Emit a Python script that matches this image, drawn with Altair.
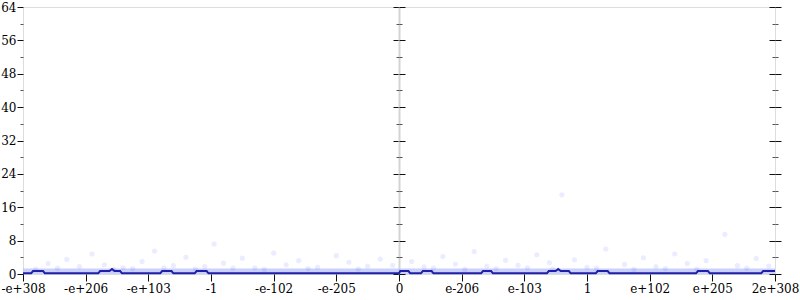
import altair as alt
import pandas as pd

# ---- data ----
x_ticks = list(range(-6, 7))
x_labels = ["-e+308", "-e+206", "-e+103", "-1", "-e-102", "-e-205", "0",
            "e-206", "e-103", "1", "e+102", "e+205", "2e+308"]
y_major = [0, 8, 16, 24, 32, 40, 48, 56, 64]
y_minor = [4, 12, 20, 28, 36, 44, 52, 60]

line_x = [-6, -5.87, -5.84, -5.68, -5.65, -4.8, -4.77, -4.62, -4.58, -4.54, -4.45, -4.42,
          -3.81, -3.78, -3.63, -3.60, -3.26, -3.23, -3.07, -3.04,
          0, 0.02, 0.15, 0.18, 0.35, 0.38, 0.52, 0.55, 1.31, 1.34, 1.47, 1.50,
          2.36, 2.39, 2.50, 2.54, 2.58, 2.71, 2.74, 3.14, 3.17, 3.33, 3.36,
          4.74, 4.77, 4.93, 4.96, 5.78, 5.81, 6]
line_y = [0.15, 0.15, 0.7, 0.7, 0.15, 0.15, 0.7, 0.7, 1.2, 0.7, 0.7, 0.15,
          0.15, 0.7, 0.7, 0.15, 0.15, 0.7, 0.7, 0.15,
          0.15, 0.7, 0.7, 0.15, 0.15, 0.7, 0.7, 0.15, 0.15, 0.7, 0.7, 0.15,
          0.15, 0.7, 0.7, 1.2, 0.7, 0.7, 0.15, 0.15, 0.7, 0.7, 0.15,
          0.15, 0.7, 0.7, 0.15, 0.15, 0.7, 0.7]

pts_x = [-5.6, -5.3, -5.1, -4.9, -4.7, -4.4, -4.1, -3.9, -3.6, -3.4, -3.1, -2.95, -2.8,
         -2.5, -2.3, -2.0, -1.8, -1.6, -1.3, -1.0, -0.8, -0.5, -0.3, -0.1,
         0.2, 0.4, 0.7, 0.9, 1.2, 1.4, 1.7, 1.9, 2.2, 2.4, 2.6, 2.8, 3.0, 3.3, 3.6,
         3.9, 4.1, 4.4, 4.6, 4.9, 5.2, 5.4, 5.7, 5.9,
         -5.8, -5.45, -4.55, -4.25, -3.75, -3.25, -2.65, -2.15, -1.45, -0.65,
         0.55, 1.05, 1.55, 2.05, 2.45, 3.15, 3.75, 4.25, 4.75, 5.55]
pts_y = [2.5, 3.5, 1.8, 4.8, 2.2, 1.5, 3.0, 5.5, 2.0, 4.0, 1.8, 7.2, 2.6,
         3.8, 1.5, 5.0, 2.2, 3.2, 1.6, 4.4, 2.8, 1.9, 3.6, 2.1,
         3.0, 1.7, 4.2, 2.4, 5.4, 1.9, 3.3, 2.1, 4.6, 2.7, 19.0, 3.4, 1.6, 6.0, 2.3,
         3.9, 1.8, 4.8, 2.5, 3.2, 9.5, 2.0, 3.7, 1.9,
         1.2, 1.4, 1.1, 1.3, 1.5, 1.2, 1.4, 1.1, 1.3, 1.2,
         1.4, 1.1, 1.3, 1.5, 1.2, 1.4, 1.1, 1.3, 1.2, 1.4]

band_x = [-6, 6]
band_y = [1.3, 1.3]

FONT = "DejaVu Serif"
W, H = 752, 267
GRAY = "#d4d4d4"
label_expr = "[" + ",".join("'%s'" % s for s in x_labels) + "][datum.value + 6]"

xs = alt.Scale(domain=[-6, 6], nice=False, zero=False)


def ys():
    return alt.Scale(domain=[0, 64], nice=False, zero=True)


df_line = pd.DataFrame({"x": line_x, "y": line_y})
df_pts = pd.DataFrame({"x": pts_x, "y": pts_y})
df_band = pd.DataFrame({"x": band_x, "y": band_y})

x_axis = alt.Axis(values=x_ticks, labelExpr=label_expr, title=None, domain=False,
                  grid=False, tickSize=7, tickColor="#111", labelFont=FONT,
                  labelFontSize=12, labelColor="#000", labelPadding=2,
                  labelOverlap=False, labelFlush=False, labelBound=False)
main_y_axis = alt.Axis(values=y_major, title=None, domain=False, grid=False,
                       tickSize=6, tickColor="#111", labelFont=FONT, labelFontSize=12,
                       labelColor="#000", labelPadding=1, labelOverlap=False,
                       labelFlush=False, labelBound=False, orient="left")

band = alt.Chart(df_band).mark_area(color="#b4bcff", opacity=0.7).encode(
    x=alt.X("x:Q", scale=xs, axis=x_axis),
    y=alt.Y("y:Q", scale=ys(), axis=main_y_axis),
)


def tick_axis(values, orient, offset, size, color, domain=False):
    return alt.Chart(df_band).mark_point(opacity=0).encode(
        x=alt.X("x:Q", scale=xs),
        y=alt.Y("y:Q", scale=ys(), axis=alt.Axis(
            values=values, orient=orient, offset=offset, tickSize=size,
            labels=False, domain=domain, domainColor=GRAY, domainWidth=2,
            grid=False, title=None, tickColor=color)),
    )


axes_layers = [
    tick_axis(y_minor, "left", 0, 3, "#555"),
    tick_axis(y_major, "left", -W / 2, 6, "#111", domain=True),
    tick_axis(y_major, "right", -W / 2, 6, "#111"),
    tick_axis(y_minor, "left", -W / 2, 3, "#555"),
    tick_axis(y_minor, "right", -W / 2, 3, "#555"),
    tick_axis(y_major, "left", -W, 6, "#111"),
    tick_axis(y_major, "right", 0, 6, "#111"),
    tick_axis(y_minor, "left", -W, 3, "#555"),
    tick_axis(y_minor, "right", 0, 3, "#555"),
]

points = alt.Chart(df_pts).mark_circle(color="#3344ff", opacity=0.1, size=26).encode(
    x=alt.X("x:Q", scale=xs),
    y=alt.Y("y:Q", scale=ys(), axis=None),
)

line = alt.Chart(df_line).mark_line(color="#1f1fa8", strokeWidth=2).encode(
    x=alt.X("x:Q", scale=xs),
    y=alt.Y("y:Q", scale=ys(), axis=None),
)

chart = alt.layer(band, *axes_layers, points, line).resolve_scale(
    y="independent"
).properties(
    width=W, height=H,
    autosize=alt.AutoSizeParams(type="none"),
    padding={"left": 23, "top": 7, "right": 25, "bottom": 26},
).configure_view(stroke="#b8b8b8", strokeWidth=2).configure(background="white")

chart.save("out.html", embed_options={"renderer": "svg", "actions": False})
